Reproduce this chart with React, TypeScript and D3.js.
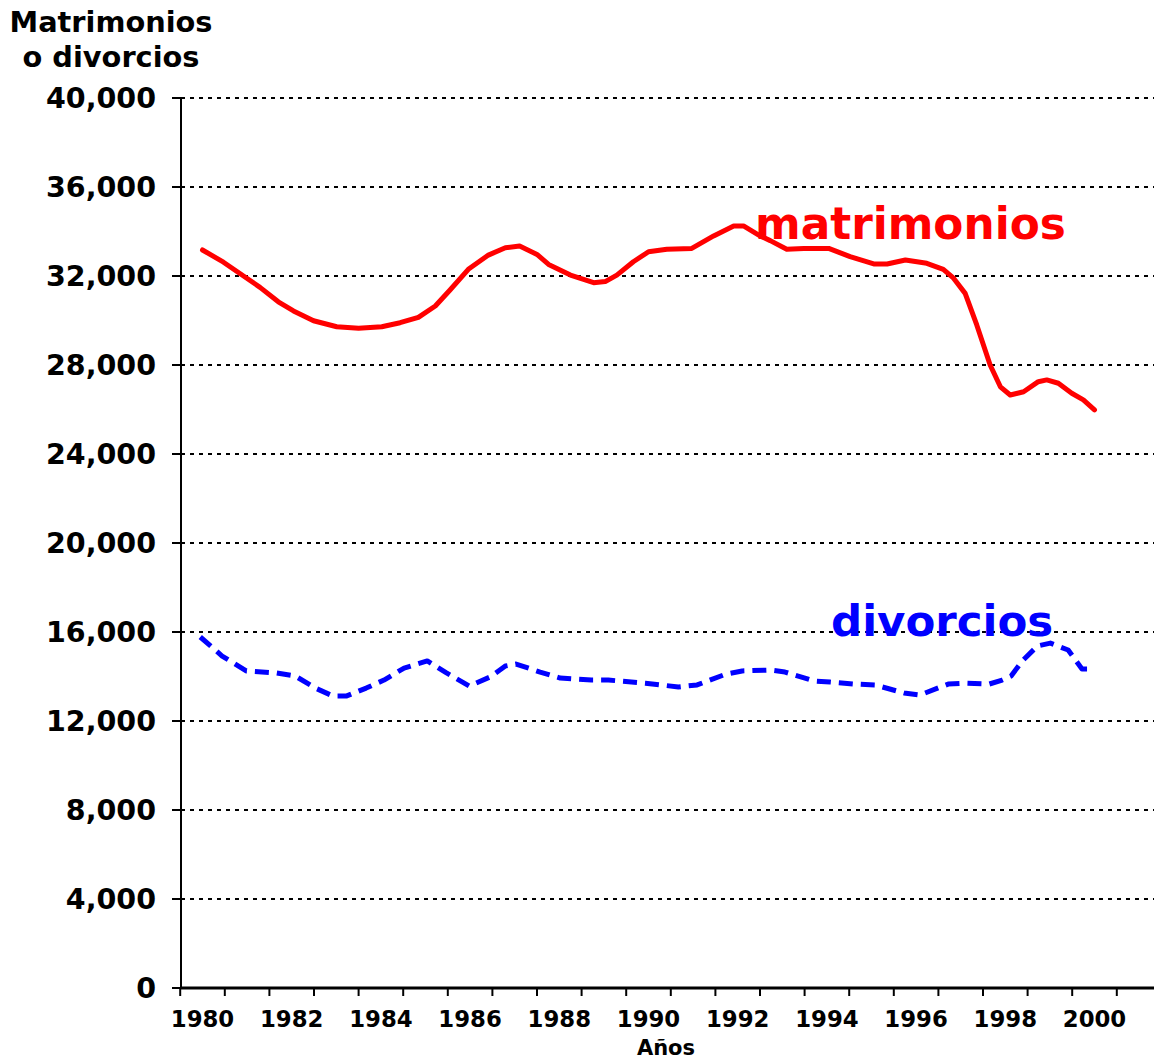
import React from "react";
import * as d3 from "d3";

const yTicks = [0, 4000, 8000, 12000, 16000, 20000, 24000, 28000, 32000, 36000, 40000];
const xLabelYears = [1980, 1982, 1984, 1986, 1988, 1990, 1992, 1994, 1996, 1998, 2000];
const categoryBounds = d3.range(1979.5, 2001, 1);

const matrimoniosYears = [1980.0, 1980.47, 1980.92, 1981.29, 1981.7, 1982.04, 1982.49, 1983.01, 1983.5, 1984.02, 1984.43, 1984.84, 1985.22, 1985.55, 1985.96, 1986.41, 1986.79, 1987.11, 1987.5, 1987.76, 1988.25, 1988.77, 1989.03, 1989.29, 1989.66, 1990.0, 1990.41, 1990.97, 1991.46, 1991.91, 1992.13, 1992.5, 1992.73, 1993.1, 1993.48, 1994.04, 1994.52, 1995.05, 1995.35, 1995.76, 1996.24, 1996.61, 1996.84, 1997.1, 1997.36, 1997.66, 1997.89, 1998.11, 1998.41, 1998.74, 1998.93, 1999.19, 1999.49, 1999.75, 2000.0];
const matrimoniosValues = [33170, 32620, 32000, 31490, 30840, 30430, 29990, 29720, 29650, 29720, 29900, 30140, 30650, 31370, 32300, 32940, 33270, 33350, 32970, 32520, 32040, 31700, 31750, 32040, 32640, 33090, 33200, 33240, 33800, 34250, 34250, 33800, 33590, 33200, 33240, 33240, 32870, 32540, 32540, 32720, 32570, 32300, 31900, 31220, 29800, 28000, 27020, 26650, 26800, 27250, 27330, 27180, 26730, 26430, 25980];

const divorciosYears = [1979.95, 1980.44, 1980.98, 1981.65, 1982.08, 1982.53, 1982.93, 1983.22, 1983.67, 1984.07, 1984.52, 1985.04, 1985.47, 1985.98, 1986.45, 1986.79, 1987.03, 1987.57, 1988.02, 1988.72, 1989.1, 1989.93, 1990.67, 1991.09, 1991.74, 1992.1, 1992.73, 1993.06, 1993.71, 1994.07, 1994.63, 1995.08, 1995.73, 1996.09, 1996.72, 1997.08, 1997.64, 1997.93, 1998.13, 1998.38, 1998.72, 1999.01, 1999.41, 1999.72, 1999.86];
const divorciosValues = [15775, 14920, 14250, 14160, 14020, 13480, 13120, 13120, 13480, 13840, 14380, 14700, 14160, 13570, 13980, 14470, 14560, 14200, 13930, 13840, 13840, 13700, 13530, 13620, 14110, 14250, 14290, 14200, 13800, 13750, 13660, 13620, 13260, 13170, 13660, 13700, 13660, 13840, 14020, 14700, 15370, 15500, 15190, 14340, 14340];

const W = 1154;
const H = 1059;
const FONT = "'DejaVu Sans', Verdana, sans-serif";

export default function App() {
  const x = d3.scaleLinear().domain([1979.5, 2001.5]).range([180.2, 1161.4]);
  const y = d3.scaleLinear().domain([0, 40000]).range([988, 98]);
  const fmt = d3.format(",");

  const line = d3
    .line<[number, number]>()
    .x((d) => x(d[0]))
    .y((d) => y(d[1]));

  const mData: [number, number][] = matrimoniosYears.map((yr, i) => [yr, matrimoniosValues[i]]);
  const dData: [number, number][] = divorciosYears.map((yr, i) => [yr, divorciosValues[i]]);

  return (
    <svg
      width={W}
      height={H}
      style={{ position: "absolute", left: 0, top: 0, background: "#fff" }}
      fontFamily={FONT}
    >
      <rect x={0} y={0} width={W} height={H} fill="#fff" />
      {/* title */}
      <text x={111} y={32} textAnchor="middle" fontSize={28.8} fontWeight="bold" fill="#000">
        Matrimonios
      </text>
      <text x={111} y={67} textAnchor="middle" fontSize={28.8} fontWeight="bold" fill="#000">
        o divorcios
      </text>

      {/* gridlines */}
      {yTicks
        .filter((t) => t > 0)
        .map((t) => (
          <line
            key={"g" + t}
            x1={181}
            x2={1154}
            y1={y(t)}
            y2={y(t)}
            stroke="#000"
            strokeWidth={2}
            strokeDasharray="4 5"
          />
        ))}

      {/* y axis */}
      <line x1={181} x2={181} y1={y(40000)} y2={y(0) + 1} stroke="#000" strokeWidth={2} />
      {yTicks.map((t) => (
        <g key={"yt" + t}>
          <line x1={172} x2={181} y1={y(t)} y2={y(t)} stroke="#000" strokeWidth={2} />
          <text
            x={156}
            y={y(t)}
            dy="0.36em"
            textAnchor="end"
            fontSize={28.5}
            fontWeight="bold"
            fill="#000"
          >
            {fmt(t)}
          </text>
        </g>
      ))}

      {/* x axis */}
      <line x1={180} x2={1154} y1={y(0)} y2={y(0)} stroke="#000" strokeWidth={3} />
      {categoryBounds.map((b) => (
        <line key={"xt" + b} x1={x(b)} x2={x(b)} y1={y(0)} y2={y(0) + 8} stroke="#000" strokeWidth={2} />
      ))}
      {xLabelYears.map((yr) => (
        <text
          key={"xl" + yr}
          x={x(yr)}
          y={1027}
          textAnchor="middle"
          fontSize={22.8}
          fontWeight="bold"
          fill="#000"
        >
          {yr}
        </text>
      ))}
      <text x={666} y={1055} textAnchor="middle" fontSize={21} fontWeight="bold" fill="#000">
        Años
      </text>

      {/* series */}
      <path
        d={line(mData) || ""}
        fill="none"
        stroke="#ff0000"
        strokeWidth={5}
        strokeLinejoin="round"
        strokeLinecap="round"
      />
      <path
        d={line(dData) || ""}
        fill="none"
        stroke="#0000ff"
        strokeWidth={5}
        strokeDasharray="14 8"
        strokeLinejoin="round"
      />

      {/* series labels */}
      <text x={755} y={239} fontSize={43.8} fontWeight="bold" fill="#ff0000">
        matrimonios
      </text>
      <text x={831} y={636} fontSize={43.5} fontWeight="bold" fill="#0000ff">
        divorcios
      </text>
    </svg>
  );
}
